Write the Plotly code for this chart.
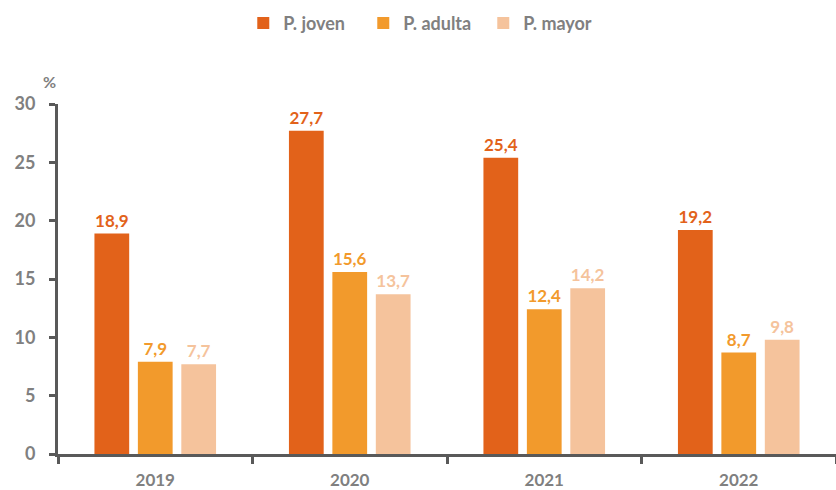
import plotly.graph_objects as go

years = ["2019", "2020", "2021", "2022"]
joven = [18.9, 27.7, 25.4, 19.2]
adulta = [7.9, 15.6, 12.4, 8.7]
mayor = [7.7, 13.7, 14.2, 9.8]
series_names = ["P. joven", "P. adulta", "P. mayor"]
colors = ["#E2621A", "#F29A2C", "#F5C39C"]
y_ticks = [0, 5, 10, 15, 20, 25, 30]

def fmt(v):
    return f"{v:.1f}".replace(".", ",")

FONT = "Lato"
fig = go.Figure()
for name, vals, c in zip(series_names, [joven, adulta, mayor], colors):
    fig.add_trace(go.Bar(
        x=years, y=vals, name=name, marker=dict(color=c, line=dict(width=0)),
        text=[fmt(v) for v in vals], textposition="outside", cliponaxis=False,
        textfont=dict(family=FONT, size=17, color=c, weight="bold"),
    ))

fig.update_layout(
    width=836, height=490,
    margin=dict(l=58, r=0, t=104, b=36, autoexpand=False),
    plot_bgcolor="white", paper_bgcolor="white",
    barmode="group", bargap=0.33, bargroupgap=0.2,
    font=dict(family=FONT, color="#808080"),
    showlegend=True,
    legend=dict(orientation="h", x=0.291, xref="container", xanchor="left", y=0.99, yref="container",
                yanchor="top", font=dict(size=18, color="#808080", family=FONT, weight="bold"),
                entrywidth=75, entrywidthmode="pixels", traceorder="normal"),
)
fig.update_xaxes(
    automargin=False,
    showline=True, linecolor="#595959", linewidth=3,
    ticks="outside", tickson="boundaries", ticklen=7, tickwidth=3, tickcolor="#595959",
    tickfont=dict(size=17, color="#808080", family=FONT, weight="bold"),
    ticklabelstandoff=9, showgrid=False, zeroline=False,
)
fig.update_yaxes(
    automargin=False,
    range=[0, 30], tickvals=y_ticks, showline=True, linecolor="#595959", linewidth=3,
    ticks="outside", ticklen=6, tickwidth=3, tickcolor="#595959",
    tickfont=dict(size=18, color="#808080", family=FONT, weight="bold"),
    ticklabelstandoff=10, showgrid=False, zeroline=False,
)
fig.add_annotation(text="%", xref="paper", yref="paper", x=0.0, y=1.03, xanchor="right", yanchor="bottom",
                   showarrow=False, font=dict(size=16, color="#808080", family=FONT, weight="bold"))
fig.write_html("out.html", post_script="document.body.style.margin='0';",
               config={"displayModeBar": False})
